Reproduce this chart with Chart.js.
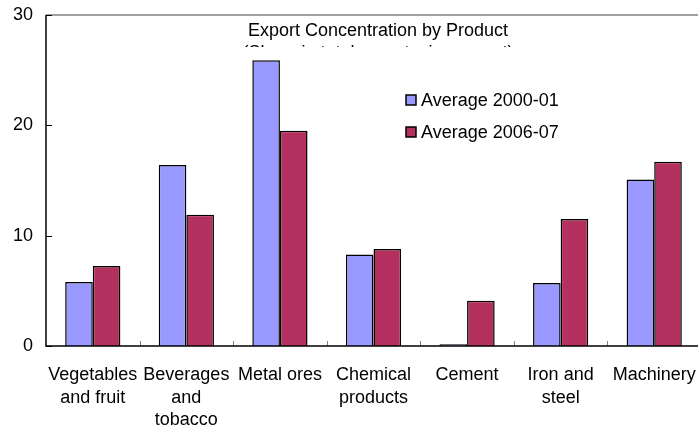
<!DOCTYPE html>
<html>
<head>
<meta charset="utf-8">
<script src="https://cdn.jsdelivr.net/npm/chart.js@4.4.0/dist/chart.umd.min.js"></script>
<style>
  html, body { margin: 0; padding: 0; background: #fff; overflow: hidden; }
  #exportChart { display: block; }
</style>
</head>
<body>
<canvas id="exportChart" width="701" height="427"></canvas>
<script>
// Export concentration by product (share in total exports, percent)
const categories = [
    ['Vegetables', 'and fruit'],
    ['Beverages', 'and', 'tobacco'],
    'Metal ores',
    ['Chemical', 'products'],
    'Cement',
    ['Iron and', 'steel'],
    'Machinery'
];
const avg2000 = [5.8, 16.4, 25.9, 8.3, 0.15, 5.7, 15.1];
const avg2006 = [7.25, 11.9, 19.5, 8.8, 4.1, 11.5, 16.7];
const seriesLabels = ['Average 2000-01', 'Average 2006-07'];
const yTicks = [0, 10, 20, 30];

const fontFamily = '"Liberation Sans", Arial, sans-serif';

// draws the frame, tick marks, title and legend the way the original looks
const decorations = {
    id: 'decorations',
    afterDraw(chart) {
        const ctx = chart.ctx;
        const area = chart.chartArea;
        const x = chart.scales.x;
        const y = chart.scales.y;
        ctx.save();

        // top border
        ctx.strokeStyle = '#808080';
        ctx.lineWidth = 1.5;
        ctx.beginPath();
        ctx.moveTo(area.left, area.top);
        ctx.lineTo(area.right, area.top);
        ctx.stroke();

        // category tick marks between groups
        ctx.strokeStyle = '#808080';
        ctx.lineWidth = 1;
        for (let i = 0; i < categories.length - 1; i++) {
            const bx = Math.round((x.getPixelForTick(i) + x.getPixelForTick(i + 1)) / 2) + 0.5;
            ctx.beginPath();
            ctx.moveTo(bx, area.bottom);
            ctx.lineTo(bx, area.bottom - 5);
            ctx.stroke();
        }

        // axis lines
        ctx.strokeStyle = '#000';
        ctx.lineWidth = 1.5;
        ctx.beginPath();
        ctx.moveTo(area.left, area.top);
        ctx.lineTo(area.left, area.bottom);
        ctx.lineTo(area.right, area.bottom);
        ctx.stroke();

        // y tick marks (inside)
        ctx.lineWidth = 1;
        yTicks.forEach(function (v) {
            const py = Math.round(y.getPixelForValue(v)) + 0.5;
            ctx.beginPath();
            ctx.moveTo(area.left, py);
            ctx.lineTo(area.left + 6, py);
            ctx.stroke();
        });

        // title + clipped subtitle
        ctx.fillStyle = '#000';
        ctx.font = '18px ' + fontFamily;
        ctx.textAlign = 'center';
        ctx.textBaseline = 'middle';
        ctx.fillText('Export Concentration by Product', 378, 31);
        ctx.save();
        ctx.beginPath();
        ctx.rect(area.left + 2, area.top, area.right - area.left, 47 - area.top);
        ctx.clip();
        ctx.fillText('(Share in total exports, in percent)', 378, 53);
        ctx.restore();

        // legend
        ctx.font = '18px ' + fontFamily;
        ctx.textAlign = 'left';
        chart.data.datasets.forEach(function (ds, i) {
            const ly = 100 + i * 32;
            ctx.fillStyle = ds.backgroundColor;
            ctx.fillRect(406, ly - 5, 10, 10);
            ctx.strokeStyle = '#000';
            ctx.lineWidth = 1.5;
            ctx.strokeRect(406, ly - 5, 10, 10);
            ctx.fillStyle = '#000';
            ctx.fillText(ds.label, 421, ly + 1);
        });

        ctx.restore();
    }
};

const ctxBar = document.getElementById('exportChart').getContext('2d');
const exportChart = new Chart(ctxBar, {
    type: 'bar',
    data: {
        labels: categories,
        datasets: [{
            label: seriesLabels[0],
            data: avg2000,
            backgroundColor: '#9999FF',
            borderColor: '#000000',
            borderWidth: 1.5
        }, {
            label: seriesLabels[1],
            data: avg2006,
            backgroundColor: '#B3305F',
            borderColor: '#000000',
            borderWidth: 1.5
        }]
    },
    options: {
        responsive: false,
        animation: false,
        layout: { padding: { top: 15, left: 0, right: 0, bottom: 0 } },
        datasets: {
            bar: { categoryPercentage: 0.59, barPercentage: 1 }
        },
        plugins: {
            legend: { display: false },
            tooltip: { enabled: false }
        },
        scales: {
            x: {
                grid: { display: false, drawTicks: false },
                border: { display: false },
                ticks: {
                    color: '#000',
                    padding: 18,
                    maxRotation: 0,
                    autoSkip: false,
                    font: { family: fontFamily, size: 18, lineHeight: 1.25 }
                },
                afterFit(scale) {
                    scale.height = 81;
                    scale.paddingLeft = 0;
                    scale.paddingRight = 0;
                }
            },
            y: {
                min: 0,
                max: 30,
                grid: { display: false, drawTicks: false },
                border: { display: false },
                afterBuildTicks(scale) {
                    scale.ticks = yTicks.map(v => ({ value: v }));
                },
                ticks: {
                    color: '#000',
                    padding: 13,
                    font: { family: fontFamily, size: 18 }
                },
                afterFit(scale) {
                    scale.width = 46;
                    scale.paddingTop = 0;
                    scale.paddingBottom = 0;
                }
            }
        }
    },
    plugins: [decorations]
});
</script>
</body>
</html>
